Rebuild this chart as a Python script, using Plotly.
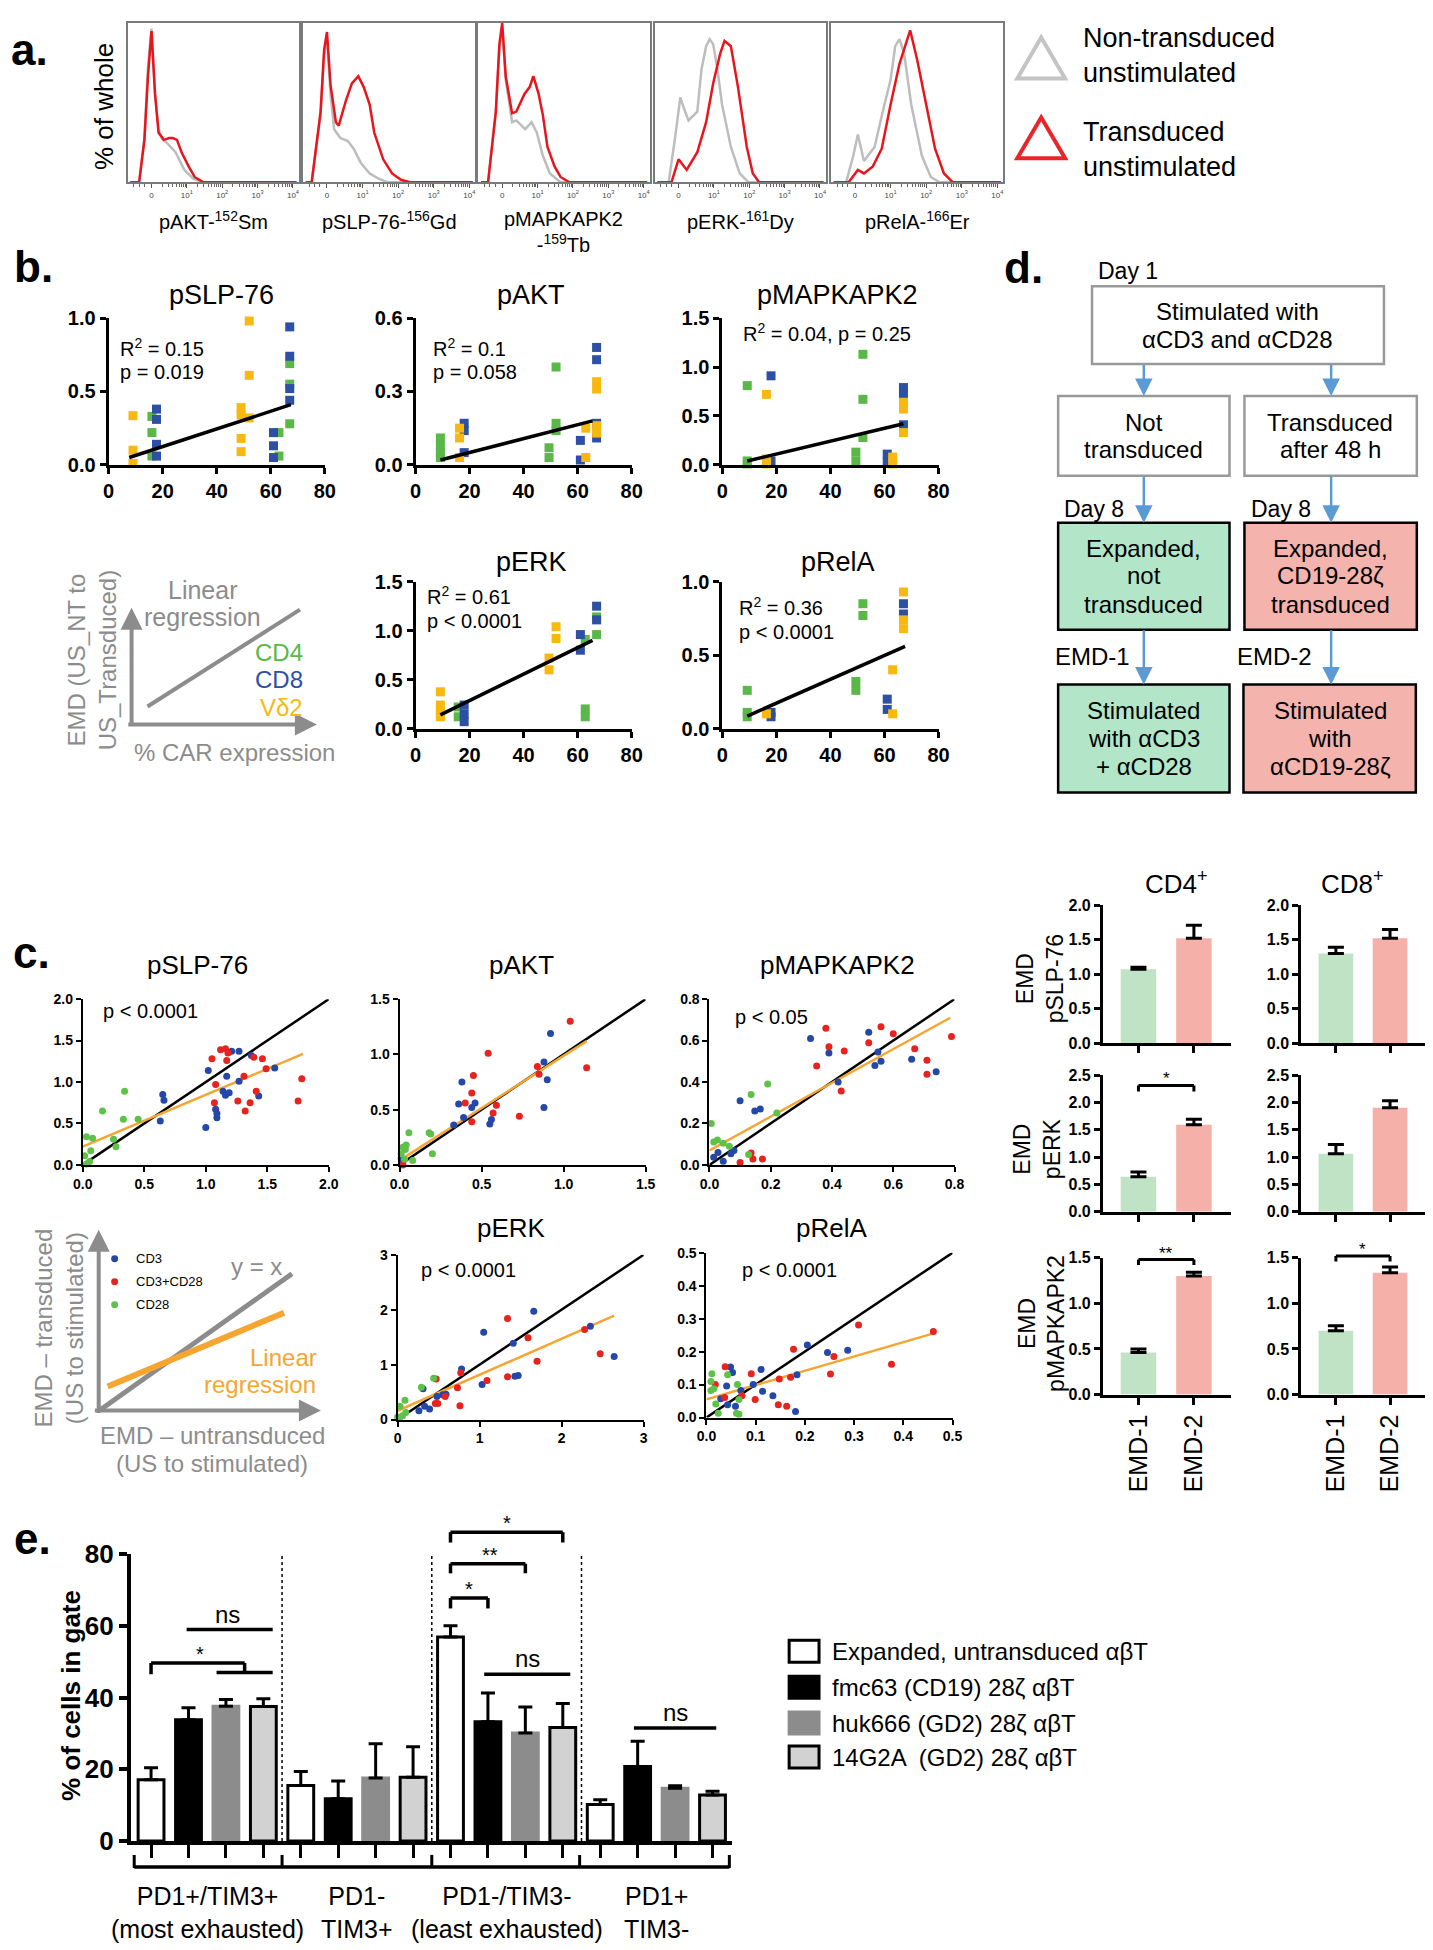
import math
import plotly.graph_objects as go

W, H = 1433, 1950
FONT = "Liberation Sans, Arial, Helvetica, sans-serif"

# ======================= DATA =======================
# ---- panel a : histograms (x in decades, y = fraction of box height) ----
A_LABELS = ["pAKT-<sup>152</sup>Sm", "pSLP-76-<sup>156</sup>Gd", "pMAPKAPK2<br>-<sup>159</sup>Tb",
            "pERK-<sup>161</sup>Dy", "pRelA-<sup>166</sup>Er"]
A_TICKVALS = [0, 1, 2, 3, 4]
A_TICKTEXT = ["0", "10<sup>1</sup>", "10<sup>2</sup>", "10<sup>3</sup>", "10<sup>4</sup>"]
A_LEGEND = ["Non-transduced<br>unstimulated", "Transduced<br>unstimulated"]

a_pakt_gray_x = [-0.6, -0.35, -0.2, -0.1, 0.0, 0.1, 0.2, 0.3, 0.45, 0.68, 0.93, 1.18, 1.43, 4.1]
a_pakt_gray_y = [0, 0, 0.25, 0.65, 0.87, 0.5, 0.3, 0.245, 0.22, 0.17, 0.07, 0.02, 0, 0]
a_pakt_red_x = [-0.6, -0.35, -0.2, -0.1, 0.0, 0.1, 0.2, 0.35, 0.5, 0.6, 0.72, 0.85, 1.05, 1.22, 1.47, 4.1]
a_pakt_red_y = [0, 0, 0.24, 0.6, 0.855, 0.5, 0.28, 0.24, 0.25, 0.25, 0.24, 0.17, 0.09, 0.03, 0, 0]

a_pslp_gray_x = [-0.6, -0.43, -0.18, -0.08, 0, 0.1, 0.2, 0.38, 0.58, 0.75, 0.95, 1.2, 1.45, 1.7, 4.1]
a_pslp_gray_y = [0, 0, 0.38, 0.72, 0.81, 0.5, 0.3, 0.25, 0.235, 0.19, 0.11, 0.05, 0.02, 0, 0]
a_pslp_red_x = [-0.6, -0.43, -0.18, -0.08, 0, 0.1, 0.25, 0.33, 0.53, 0.7, 0.88, 1.03, 1.2, 1.33, 1.58, 1.83, 2.08, 2.33, 4.1]
a_pslp_red_y = [0, 0, 0.4, 0.75, 0.85, 0.55, 0.34, 0.32, 0.46, 0.56, 0.6, 0.54, 0.44, 0.28, 0.13, 0.05, 0.014, 0, 0]

a_pmapk_gray_x = [-0.6, -0.4, -0.18, -0.08, 0, 0.1, 0.28, 0.4, 0.65, 0.83, 0.98, 1.15, 1.35, 1.65, 4.1]
a_pmapk_gray_y = [0, 0, 0.4, 0.75, 0.88, 0.58, 0.34, 0.35, 0.3, 0.34, 0.28, 0.15, 0.05, 0, 0]
a_pmapk_red_x = [-0.6, -0.4, -0.18, -0.08, 0, 0.1, 0.28, 0.4, 0.63, 0.78, 0.88, 1.03, 1.15, 1.28, 1.48, 1.65, 1.9, 4.1]
a_pmapk_red_y = [0, 0, 0.4, 0.78, 0.9, 0.6, 0.39, 0.4, 0.5, 0.54, 0.6, 0.5, 0.38, 0.2, 0.09, 0.03, 0, 0]

a_perk_gray_x = [-0.6, -0.28, -0.1, 0.05, 0.15, 0.28, 0.53, 0.65, 0.78, 0.88, 0.98, 1.1, 1.23, 1.48, 1.73, 1.98, 4.1]
a_perk_gray_y = [0, 0, 0.25, 0.48, 0.42, 0.35, 0.4, 0.64, 0.77, 0.81, 0.78, 0.64, 0.44, 0.2, 0.05, 0, 0]
a_perk_red_x = [-0.6, -0.2, 0, 0.23, 0.53, 0.78, 0.98, 1.18, 1.3, 1.48, 1.68, 1.93, 2.1, 2.28, 4.1]
a_perk_red_y = [0, 0, 0.13, 0.07, 0.17, 0.34, 0.56, 0.73, 0.80, 0.77, 0.54, 0.2, 0.05, 0, 0]

a_prela_gray_x = [-0.6, -0.25, -0.05, 0.08, 0.25, 0.55, 0.78, 1.0, 1.13, 1.25, 1.38, 1.58, 1.88, 2.13, 2.38, 4.1]
a_prela_gray_y = [0, 0, 0.15, 0.27, 0.12, 0.2, 0.4, 0.58, 0.77, 0.81, 0.73, 0.44, 0.15, 0.03, 0, 0]
a_prela_red_x = [-0.6, -0.18, 0.08, 0.25, 0.5, 0.75, 1.0, 1.25, 1.55, 1.75, 2.0, 2.25, 2.5, 2.75, 4.1]
a_prela_red_y = [0, 0, 0.07, 0.05, 0.09, 0.19, 0.44, 0.67, 0.86, 0.69, 0.44, 0.19, 0.05, 0, 0]

# ---- panel b : EMD vs % CAR expression (x, y) ----
B_GROUPS = ["CD4", "CD8", "Vδ2"]
b_pslp76_cd4 = [(16, 0.33), (16, 0.22), (16, 0.06), (63, 0.22), (63, 0.06), (67, 0.69), (67, 0.55), (67, 0.28)]
b_pslp76_cd8 = [(17.7, 0.38), (17.7, 0.31), (17.7, 0.14), (17.7, 0.06), (61, 0.22), (61, 0.13), (61, 0.05),
                (67, 0.94), (67, 0.74), (67, 0.52), (67, 0.44)]
b_pslp76_vd2 = [(9, 0.335), (9, 0.10), (9, 0.01), (52, 0.98), (52, 0.61), (49, 0.39), (49, 0.34), (52, 0.32),
                (49, 0.18), (49, 0.09)]
b_pslp76_fit = [(7.6, 0.05), (67.4, 0.41)]

b_pakt_cd4 = [(9.2, 0.11), (9.2, 0.08), (9.2, 0.05), (9.2, 0.03), (52, 0.40), (52, 0.17), (52, 0.14), (49.4, 0.07), (49.4, 0.03)]
b_pakt_cd8 = [(18, 0.17), (18, 0.14), (18, 0.05), (61, 0.10), (61, 0.02), (67, 0.48), (67, 0.43), (67, 0.17), (67, 0.11)]
b_pakt_vd2 = [(16.3, 0.15), (16.3, 0.11), (16.3, 0.03), (63, 0.03), (63, 0.15), (67, 0.34), (67, 0.31), (67, 0.16), (67, 0.13)]
b_pakt_fit = [(9.2, 0.02), (65.5, 0.18)]

b_pmapk_cd4 = [(9.2, 0.81), (9.2, 0.04), (9.2, 0.01), (52, 1.13), (52, 0.67), (52, 0.28), (49.4, 0.13), (49.4, 0.04)]
b_pmapk_cd8 = [(18, 0.91), (18, 0.04), (61, 0.11), (61, 0.03), (67, 0.79), (67, 0.72), (67, 0.41)]
b_pmapk_vd2 = [(16.3, 0.72), (16.3, 0.06), (16.3, 0.01), (63, 0.08), (63, 0.01), (67, 0.64), (67, 0.57), (67, 0.33)]
b_pmapk_fit = [(9.2, 0.04), (67, 0.42)]

b_perk_cd4 = [(15.8, 0.22), (15.8, 0.12), (62.8, 0.20), (62.8, 0.12), (62.8, 0.91), (67, 1.14), (67, 0.96)]
b_perk_cd8 = [(18, 0.24), (18, 0.15), (18, 0.07), (61, 0.96), (61, 0.80), (67, 1.25), (67, 1.11)]
b_perk_vd2 = [(9.2, 0.375), (9.2, 0.24), (9.2, 0.17), (9.2, 0.12), (52, 1.04), (52, 0.92), (49.4, 0.72), (49.4, 0.60)]
b_perk_fit = [(9.2, 0.14), (65.5, 0.90)]

b_prela_cd4 = [(9.2, 0.26), (9.2, 0.11), (9.2, 0.08), (52, 0.85), (52, 0.77), (49.4, 0.32), (49.4, 0.26)]
b_prela_cd8 = [(18, 0.11), (18, 0.08), (61, 0.20), (61, 0.13), (67, 0.85), (67, 0.78)]
b_prela_vd2 = [(16.3, 0.10), (63, 0.40), (63, 0.10), (67, 0.93), (67, 0.74), (67, 0.68)]
b_prela_fit = [(9.2, 0.085), (67.6, 0.56)]

# ---- panel c : EMD transduced vs untransduced (x, y) ----
C_GROUPS = ["CD3", "CD3+CD28", "CD28"]
c_pslp76_cd3 = [(0.65, 0.85), (0.66, 0.78), (0.63, 0.53), (1.02, 1.14), (1.00, 0.45), (1.08, 0.67), (1.09, 0.62),
                (1.09, 0.57), (1.14, 0.89), (1.16, 0.84), (1.19, 0.87), (1.17, 1.07), (1.21, 1.37), (1.27, 1.37),
                (1.27, 1.01), (1.37, 1.32), (1.43, 0.83), (1.56, 1.17)]
c_pslp76_cd3cd28 = [(1.05, 1.28), (1.12, 1.39), (1.16, 1.40), (1.17, 1.26), (1.18, 1.35), (1.08, 0.97), (1.07, 0.75),
                    (1.26, 0.77), (1.32, 0.65), (1.31, 1.07), (1.36, 0.75), (1.39, 1.30), (1.41, 0.89), (1.46, 1.28),
                    (1.49, 1.16), (1.75, 0.77), (1.78, 1.04)]
c_pslp76_cd28 = [(0.03, 0.34), (0.08, 0.32), (0.065, 0.17), (0.015, 0.11), (0.055, 0.04), (0.03, 0.01), (0.16, 0.65),
                 (0.34, 0.89), (0.33, 0.55), (0.45, 0.55), (0.25, 0.31), (0.27, 0.22)]
c_pslp76_fit = [(0.0, 0.22), (1.79, 1.34)]

c_pakt_cd3 = [(0.01, 0.06), (0.02, 0.03), (0.33, 0.36), (0.36, 0.55), (0.38, 0.75), (0.39, 0.43), (0.44, 0.52),
              (0.46, 0.56), (0.55, 0.37), (0.56, 0.41), (0.88, 0.52), (0.88, 0.93), (0.90, 0.77), (0.92, 1.19)]
c_pakt_cd3cd28 = [(0.02, 0.0), (0.40, 0.56), (0.44, 0.39), (0.44, 0.65), (0.45, 0.81), (0.54, 1.01), (0.57, 0.47),
                  (0.59, 0.54), (0.73, 0.44), (0.84, 0.89), (0.85, 0.82), (1.04, 1.30), (1.14, 0.88)]
c_pakt_cd28 = [(0.057, 0.29), (0.18, 0.29), (0.19, 0.28), (0.02, 0.16), (0.04, 0.18), (0.035, 0.14), (0.01, 0.10),
               (0.08, 0.04), (0.20, 0.10), (0.03, 0.05)]
c_pakt_fit = [(0.0, 0.04), (1.14, 1.12)]

c_pmapk_cd3 = [(0.028, 0.06), (0.014, 0.037), (0.045, 0.017), (0.07, 0.054), (0.08, 0.07), (0.10, 0.31), (0.148, 0.26),
               (0.166, 0.27), (0.33, 0.61), (0.39, 0.54), (0.42, 0.40), (0.52, 0.64), (0.54, 0.48), (0.55, 0.545),
               (0.56, 0.50), (0.66, 0.51), (0.74, 0.45)]
c_pmapk_cd3cd28 = [(0.10, 0.012), (0.136, 0.058), (0.142, 0.029), (0.173, 0.029), (0.35, 0.477), (0.38, 0.66),
                   (0.39, 0.57), (0.43, 0.357), (0.44, 0.55), (0.52, 0.59), (0.56, 0.667), (0.60, 0.633), (0.67, 0.56),
                   (0.71, 0.505), (0.71, 0.437), (0.79, 0.62)]
c_pmapk_cd28 = [(0.006, 0.20), (0.014, 0.11), (0.026, 0.12), (0.045, 0.105), (0.065, 0.09), (0.136, 0.34), (0.19, 0.39),
                (0.22, 0.25), (0.128, 0.05)]
c_pmapk_fit = [(0.0, 0.07), (0.786, 0.71)]

c_perk_cd3 = [(0.26, 0.16), (0.31, 0.56), (0.33, 0.24), (0.39, 0.19), (0.48, 0.42), (0.55, 0.45), (0.59, 0.46),
              (0.78, 0.92), (1.03, 0.64), (1.05, 1.59), (1.41, 1.39), (1.43, 0.79), (1.47, 0.80), (1.66, 1.97),
              (2.35, 1.70), (2.64, 1.15)]
c_perk_cd3cd28 = [(0.47, 0.74), (0.46, 0.29), (0.49, 0.29), (0.58, 0.42), (0.73, 0.58), (0.76, 0.25), (0.77, 0.85),
                  (1.09, 0.71), (1.34, 1.84), (1.34, 0.78), (1.59, 1.49), (1.70, 1.06), (2.28, 1.64), (2.47, 1.20)]
c_perk_cd28 = [(0.0, 0.045), (0.03, 0.24), (0.09, 0.35), (0.29, 0.59), (0.44, 0.75), (0.06, 0.07), (0.02, 0.02), (0.1, 0.13)]
c_perk_fit = [(0.0, 0.16), (2.64, 1.89)]

c_prela_cd3 = [(0.029, 0.057), (0.041, 0.096), (0.043, 0.039), (0.049, 0.153), (0.053, 0.137), (0.059, 0.034),
               (0.07, 0.082), (0.095, 0.10), (0.111, 0.146), (0.114, 0.08), (0.135, 0.066), (0.181, 0.018),
               (0.184, 0.13), (0.205, 0.22), (0.246, 0.197), (0.287, 0.204)]
c_prela_cd3cd28 = [(0.018, 0.10), (0.038, 0.154), (0.037, 0.061), (0.072, 0.066), (0.091, 0.133), (0.099, 0.055),
                   (0.148, 0.117), (0.146, 0.039), (0.163, 0.034), (0.171, 0.122), (0.177, 0.207), (0.252, 0.132),
                   (0.259, 0.185), (0.309, 0.281), (0.376, 0.162), (0.461, 0.261)]
c_prela_cd28 = [(0.009, 0.082), (0.015, 0.087), (0.011, 0.133), (0.009, 0.109), (0.019, 0.041), (0.024, 0.013),
                (0.043, 0.13), (0.063, 0.10), (0.066, 0.055), (0.061, 0.013), (0.066, 0.01)]
c_prela_fit = [(0.0, 0.055), (0.465, 0.257)]

# ---- right bar charts (EMD-1 vs EMD-2), mean and SEM ----
BAR_CATS = ["EMD-1", "EMD-2"]
cd4_pslp76 = [1.07, 1.52]; cd4_pslp76_sem = [0.03, 0.19]
cd8_pslp76 = [1.30, 1.52]; cd8_pslp76_sem = [0.09, 0.13]
cd4_perk = [0.64, 1.59]; cd4_perk_sem = [0.09, 0.10]
cd8_perk = [1.06, 1.90]; cd8_perk_sem = [0.17, 0.13]
cd4_pmapk = [0.46, 1.30]; cd4_pmapk_sem = [0.04, 0.04]
cd8_pmapk = [0.70, 1.335]; cd8_pmapk_sem = [0.055, 0.065]

# ---- panel e ----
E_GROUPS = ["PD1+/TIM3+<br>(most exhausted)", "PD1-<br>TIM3+", "PD1-/TIM3-<br>(least exhausted)", "PD1+<br>TIM3-"]
E_SERIES = ["Expanded, untransduced αβT", "fmc63 (CD19) 28ζ αβT", "huk666 (GD2) 28ζ αβT", "14G2A  (GD2) 28ζ αβT"]
e_untransduced = [17.1, 15.5, 56.9, 10.2]; e_untransduced_sem = [3.3, 3.9, 3.2, 1.3]
e_fmc63 = [33.8, 11.8, 33.3, 20.8]; e_fmc63_sem = [3.4, 4.9, 8.0, 7.0]
e_huk666 = [37.6, 17.6, 30.1, 14.7]; e_huk666_sem = [1.9, 9.5, 7.3, 0.7]
e_14g2a = [37.5, 17.8, 31.7, 12.8]; e_14g2a_sem = [2.2, 8.5, 6.7, 1.1]

# ======================= HELPERS =======================
layout = dict(width=W, height=H, margin=dict(l=0, r=0, t=0, b=0), paper_bgcolor="white",
              plot_bgcolor="white", showlegend=False, font=dict(family=FONT, color="black"))
annotations, shapes, traces = [], [], []

# positions below (pixels); the page photo shifts/shrinks the
# figure slightly, so map reference pixels into layout pixels
SX, OX = 0.989, 14.0
SY, OY = 0.986, 22.5


def lx(x): return (x - OX) / SX
def ly(y): return (y - OY) / SY
def px(x): return lx(x) / W
def py(y): return 1 - ly(y) / H
def clamp(v): return min(1.0, max(0.0, v))
def xdom(a, b): return [clamp(px(a)), clamp(px(b))]
def ydom(top, bot): return [clamp(py(bot)), clamp(py(top))]


def text(x, y, s, size, color="black", xanchor="center", yanchor="middle", angle=0, bold=False,
         xref="paper", yref="paper", yshift=0, align="center"):
    if xref == "paper":
        x = px(x)
    if yref == "paper":
        y = clamp(py(y))
    if bold:
        s = "<b>" + s + "</b>"
    annotations.append(dict(x=x, y=y, xref=xref, yref=yref, text=s, showarrow=False, xanchor=xanchor,
                            yanchor=yanchor, textangle=angle, yshift=yshift, align=align,
                            font=dict(size=size, color=color, family=FONT)))


def seg(x0, y0, x1, y1, xref="paper", yref="paper", width=3, color="black", dash=None):
    if xref == "paper":
        x0, x1 = px(x0), px(x1)
    if yref == "paper":
        y0, y1 = py(y0), py(y1)
    shapes.append(dict(type="line", xref=xref, yref=yref, x0=x0, y0=y0, x1=x1, y1=y1,
                       line=dict(color=color, width=width, dash=dash)))


def rect(x0, y0, x1, y1, fill, line, width):
    shapes.append(dict(type="rect", xref="paper", yref="paper", x0=px(x0), x1=px(x1), y0=py(y1), y1=py(y0),
                       fillcolor=fill, line=dict(color=line, width=width)))


def arrow(xh, yh, xt, yt, color, width, size):
    annotations.append(dict(x=px(xh), y=py(yh), xref="paper", yref="paper", ax=(xt - xh) / SX,
                            ay=(yt - yh) / SY, axref="pixel", ayref="pixel", text="", showarrow=True,
                            arrowhead=2, arrowsize=size, arrowwidth=width, arrowcolor=color, standoff=0))


def names(n):
    return ("x" if n == 1 else "x%d" % n), ("y" if n == 1 else "y%d" % n)


def axes(n, xd, yd, xr, yr, xkw, ykw):
    xn, yn = names(n)
    sfx = "" if n == 1 else str(n)
    layout["xaxis" + sfx] = dict(domain=xd, range=xr, anchor=yn, fixedrange=True, **xkw)
    layout["yaxis" + sfx] = dict(domain=yd, range=yr, anchor=xn, fixedrange=True, **ykw)
    return xn, yn


def gp(lw, tl, fs, vals, labels, show=True):
    return dict(showline=True, linewidth=lw, linecolor="black", ticks="outside", ticklen=tl, tickwidth=lw,
                tickcolor="black", showgrid=False, zeroline=False, tickmode="array", tickvals=vals,
                ticktext=labels, showticklabels=show,
                tickfont=dict(family=FONT, size=fs, color="black", weight="bold"))


def fmt(vals, d=1):
    return [("%." + str(d) + "f") % v for v in vals]


# ======================= PANEL LETTERS =======================
text(5, 0, "a.", 44, xanchor="left", yanchor="top", bold=True)
for letter, lxp, lyp in [("b.", 8, 283), ("c.", 7, 970), ("d.", 1002, 284), ("e.", 8, 1557)]:
    text(lxp, lyp + 10, letter, 44, xanchor="left", yanchor="bottom", bold=True)

# ======================= PANEL a =======================
A_DATA = [(a_pakt_gray_x, a_pakt_gray_y, a_pakt_red_x, a_pakt_red_y),
          (a_pslp_gray_x, a_pslp_gray_y, a_pslp_red_x, a_pslp_red_y),
          (a_pmapk_gray_x, a_pmapk_gray_y, a_pmapk_red_x, a_pmapk_red_y),
          (a_perk_gray_x, a_perk_gray_y, a_perk_red_x, a_perk_red_y),
          (a_prela_gray_x, a_prela_gray_y, a_prela_red_x, a_prela_red_y)]
A_BOXES = [(124, 296), (300, 473), (476, 648), (653, 825), (830, 1003)]
A_BOX_TOP, A_BOX_BOT = 5, 182
# the top of the box can't be placed above the page top, so trim the value range to keep scale
a_top_visible = (A_BOX_BOT - max(A_BOX_TOP, OY)) / (A_BOX_BOT - A_BOX_TOP)
minor_vals = [-0.5, -0.35, -0.2] + [n + math.log10(k) for n in range(4) for k in range(2, 10)]
for i, ((gx, gy, rx, ry), (bx0, bx1), lab) in enumerate(zip(A_DATA, A_BOXES, A_LABELS)):
    n = 1 + i
    xkw = dict(showline=True, mirror=True, linewidth=1.5, linecolor="#7a7a7a", ticks="outside", ticklen=4,
               tickwidth=1, tickcolor="#555", tickmode="array", tickvals=A_TICKVALS, ticktext=A_TICKTEXT,
               tickfont=dict(size=8, color="#444", family=FONT), showgrid=False, zeroline=False,
               minor=dict(tickmode="array", tickvals=minor_vals, ticklen=2.5, tickwidth=1, tickcolor="#666",
                          ticks="outside", showgrid=False))
    ykw = dict(showline=True, mirror=True, linewidth=1.5, linecolor="#7a7a7a", ticks="", showticklabels=False,
               showgrid=False, zeroline=False)
    xn, yn = axes(n, xdom(bx0, bx1), ydom(A_BOX_TOP, A_BOX_BOT), [-0.676, 4.17], [0, a_top_visible], xkw, ykw)
    traces.append(go.Scatter(x=gx, y=gy, mode="lines", line=dict(color="#bdbdbd", width=2.5), xaxis=xn, yaxis=yn))
    traces.append(go.Scatter(x=rx, y=ry, mode="lines", line=dict(color="#e8161c", width=2.5), xaxis=xn, yaxis=yn))
    text((bx0 + bx1) / 2, 206, lab, 20, yanchor="top")
text(101, 106, "% of whole", 26, angle=-90)
for (ytop, ybot), col, lab, ty in [((37, 78), "#c4c4c4", A_LEGEND[0], 55), ((117, 158), "#e8262a", A_LEGEND[1], 149)]:
    path = "M %f %f L %f %f L %f %f Z" % (px(1017), py(ybot), px(1041), py(ytop), px(1065), py(ybot))
    shapes.append(dict(type="path", xref="paper", yref="paper", path=path, line=dict(color=col, width=4),
                       fillcolor="rgba(0,0,0,0)"))
    text(1081, ty, lab, 27, xanchor="left", align="left")

# ======================= PANEL b =======================
B_COLORS = ["#5ab848", "#2d4fa4", "#f7b90f"]
B_PANELS = [
    ("pSLP-76", (b_pslp76_cd4, b_pslp76_cd8, b_pslp76_vd2), b_pslp76_fit, (105, 322), (318, 465), [0, 1.0],
     [0, 0.5, 1.0], (218, 295), [("R<sup>2</sup> = 0.15", 114, 347), ("p = 0.019", 114, 372)]),
    ("pAKT", (b_pakt_cd4, b_pakt_cd8, b_pakt_vd2), b_pakt_fit, (413, 630), (318, 465), [0, 0.6],
     [0, 0.3, 0.6], (529, 295), [("R<sup>2</sup> = 0.1", 429, 347), ("p = 0.058", 429, 372)]),
    ("pMAPKAPK2", (b_pmapk_cd4, b_pmapk_cd8, b_pmapk_vd2), b_pmapk_fit, (721, 938), (318, 465), [0, 1.5],
     [0, 0.5, 1.0, 1.5], (837, 295), [("R<sup>2</sup> = 0.04, p = 0.25", 740, 332)]),
    ("pERK", (b_perk_cd4, b_perk_cd8, b_perk_vd2), b_perk_fit, (413, 630), (582, 729), [0, 1.5],
     [0, 0.5, 1.0, 1.5], (529, 562), [("R<sup>2</sup> = 0.61", 423, 596), ("p < 0.0001", 423, 621)]),
    ("pRelA", (b_prela_cd4, b_prela_cd8, b_prela_vd2), b_prela_fit, (721, 938), (582, 729), [0, 1.0],
     [0, 0.5, 1.0], (837, 562), [("R<sup>2</sup> = 0.36", 736, 607), ("p < 0.0001", 736, 632)]),
]
for i, (title, groups, fit, (x0, x1), (yt, yb), yr, yt_vals, (tx, ty), notes) in enumerate(B_PANELS):
    n = 6 + i
    xkw = gp(3, 6, 20, [0, 20, 40, 60, 80], ["0", "20", "40", "60", "80"])
    ykw = gp(3, 6, 20, yt_vals, fmt(yt_vals))
    xn, yn = axes(n, xdom(x0, x1), ydom(yt, yb), [0, 80], yr, xkw, ykw)
    for pts, col in zip(groups, B_COLORS):
        traces.append(go.Scatter(x=[p[0] for p in pts], y=[p[1] for p in pts], mode="markers",
                                 marker=dict(symbol="square", size=9, color=col), cliponaxis=False,
                                 xaxis=xn, yaxis=yn))
    traces.append(go.Scatter(x=[p[0] for p in fit], y=[p[1] for p in fit], mode="lines",
                             line=dict(color="black", width=3.5), xaxis=xn, yaxis=yn))
    text(tx, ty, title, 27)
    for s, nx, ny in notes:
        text(nx, ny, s, 20, xanchor="left")

GRAY = "#8c8c8c"
arrow(128, 608, 128, 725, GRAY, 4, 1.1)
arrow(314, 725, 126, 725, GRAY, 4, 1.1)
seg(144, 707, 297, 610, width=4, color=GRAY)
text(200, 590, "Linear", 25, color=GRAY)
text(199, 617, "regression", 25, color=GRAY)
for g, col, yy in zip(B_GROUPS, B_COLORS, [653, 680, 708]):
    text(302, yy, g, 24, color=col, xanchor="right")
text(231, 753, "% CAR expression", 24, color=GRAY)
text(88, 660, "EMD (US_NT to<br>US_Transduced)", 24, color=GRAY, angle=-90)

# ======================= PANEL c =======================
C_COLORS = ["#2548a8", "#e8221e", "#5ec249"]
ORANGE = "#f7a531"
C_PANELS = [
    ("pSLP-76", (c_pslp76_cd3, c_pslp76_cd3cd28, c_pslp76_cd28), c_pslp76_fit, (79, 326), (1000, 1166), 2.0,
     [0, 0.5, 1.0, 1.5, 2.0], 1, (194, 966), ("p < 0.0001", 97, 1012)),
    ("pAKT", (c_pakt_cd3, c_pakt_cd3cd28, c_pakt_cd28), c_pakt_fit, (397, 644), (1000, 1166), 1.5,
     [0, 0.5, 1.0, 1.5], 1, (519, 966), None),
    ("pMAPKAPK2", (c_pmapk_cd3, c_pmapk_cd3cd28, c_pmapk_cd28), c_pmapk_fit, (708, 954), (1000, 1166), 0.8,
     [0, 0.2, 0.4, 0.6, 0.8], 1, (837, 966), ("p < 0.05", 732, 1018)),
    ("pERK", (c_perk_cd3, c_perk_cd3cd28, c_perk_cd28), c_perk_fit, (395, 642), (1256, 1421), 3.0,
     [0, 1, 2, 3], 0, (509, 1229), ("p < 0.0001", 416, 1271)),
    ("pRelA", (c_prela_cd3, c_prela_cd3cd28, c_prela_cd28), c_prela_fit, (705, 952), (1254, 1419), 0.5,
     [0, 0.1, 0.2, 0.3, 0.4, 0.5], 1, (831, 1229), ("p < 0.0001", 739, 1271)),
]
for i, (title, groups, fit, (x0, x1), (yt, yb), vmax, tv, dec, (tx, ty), note) in enumerate(C_PANELS):
    n = 11 + i
    xkw = gp(2, 5, 14, tv, fmt(tv, dec))
    ykw = gp(2, 5, 14, tv, fmt(tv, dec))
    xn, yn = axes(n, xdom(x0, x1), ydom(yt, yb), [0, vmax], [0, vmax], xkw, ykw)
    traces.append(go.Scatter(x=[0, vmax], y=[0, vmax], mode="lines", line=dict(color="black", width=2.5),
                             xaxis=xn, yaxis=yn))
    traces.append(go.Scatter(x=[p[0] for p in fit], y=[p[1] for p in fit], mode="lines",
                             line=dict(color=ORANGE, width=2.5), xaxis=xn, yaxis=yn))
    for pts, col in zip(groups, C_COLORS):
        traces.append(go.Scatter(x=[p[0] for p in pts], y=[p[1] for p in pts], mode="markers",
                                 marker=dict(size=7, color=col), cliponaxis=False, xaxis=xn, yaxis=yn))
    text(tx, ty, title, 26)
    if note:
        text(note[1], note[2], note[0], 20, xanchor="left")

arrow(95, 1231, 95, 1413, GRAY, 4, 1.1)
arrow(318, 1412, 93, 1412, GRAY, 4, 1.1)
seg(97, 1411, 289, 1275, width=5, color=GRAY)
seg(104, 1388, 281, 1314, width=6, color=ORANGE)
for g, col, yy in zip(C_GROUPS, C_COLORS, [1260, 1283, 1306]):
    shapes.append(dict(type="circle", xref="paper", yref="paper", x0=px(107.5), x1=px(114.5), y0=py(yy + 3.5),
                       y1=py(yy - 3.5), fillcolor=col, line=dict(width=0)))
    text(130, yy, g, 13, xanchor="left")
text(253, 1268, "y = x", 24, color=GRAY)
text(316, 1359, "Linear", 24, color=ORANGE, xanchor="right")
text(315, 1386, "regression", 24, color=ORANGE, xanchor="right")
text(209, 1437, "EMD – untransduced", 24, color=GRAY)
text(209, 1465, "(US to stimulated)", 24, color=GRAY)
text(55, 1329, "EMD – transduced<br>(US to stimulated)", 24, color=GRAY, angle=-90)

# ======================= PANEL d (flowchart) =======================
BLUE = "#5b9bd5"
GREEN_BOX = "#b3e6c9"
RED_BOX = "#f5b3ae"
rect(1092, 286, 1385, 364, "white", "#999999", 2.5)
rect(1058, 396, 1230, 476, "white", "#999999", 2.5)
rect(1245, 396, 1418, 476, "white", "#999999", 2.5)
rect(1058, 523, 1230, 630, GREEN_BOX, "black", 2.5)
rect(1245, 523, 1418, 630, RED_BOX, "black", 2.5)
rect(1058, 685, 1230, 793, GREEN_BOX, "black", 2.5)
rect(1244, 685, 1417, 793, RED_BOX, "black", 2.5)
for ax_ in (1144, 1332):
    arrow(ax_, 396, ax_, 364, BLUE, 2.5, 1.4)
    arrow(ax_, 523, ax_, 476, BLUE, 2.5, 1.4)
    arrow(ax_, 685, ax_, 630, BLUE, 2.5, 1.4)
text(1096, 271, "Day 1", 23, xanchor="left")
text(1062, 509, "Day 8", 23, xanchor="left")
text(1250, 509, "Day 8", 23, xanchor="left")
text(1053, 657, "EMD-1", 24, xanchor="left")
text(1236, 657, "EMD-2", 24, xanchor="left")
for cxp, lines, ys in [
    (1238, ["Stimulated with", "αCD3 and αCD28"], [311, 339]),
    (1144, ["Not", "transduced"], [423, 450]),
    (1331, ["Transduced", "after 48 h"], [423, 450]),
    (1144, ["Expanded,", "not", "transduced"], [549, 576, 605]),
    (1331, ["Expanded,", "CD19-28ζ", "transduced"], [549, 576, 605]),
    (1144, ["Stimulated", "with αCD3", "+ αCD28"], [711, 739, 767]),
    (1331, ["Stimulated", "with", "αCD19-28ζ"], [711, 739, 767]),
]:
    for ln, yy in zip(lines, ys):
        text(cxp, yy, ln, 24)

# ======================= RIGHT BAR CHARTS =======================
BAR_COLORS = ["#bfe3c4", "#f6b0aa"]
BAR_PANELS = [
    (cd4_pslp76, cd4_pslp76_sem, (1103, 1231), (906, 1044), 2.0, [0, 0.5, 1.0, 1.5, 2.0], False, None),
    (cd8_pslp76, cd8_pslp76_sem, (1302, 1427), (906, 1044), 2.0, [0, 0.5, 1.0, 1.5, 2.0], False, None),
    (cd4_perk, cd4_perk_sem, (1103, 1231), (1076, 1213), 2.5, [0, 0.5, 1.0, 1.5, 2.0, 2.5], False, ("*", 2.31, 2.2)),
    (cd8_perk, cd8_perk_sem, (1302, 1427), (1076, 1213), 2.5, [0, 0.5, 1.0, 1.5, 2.0, 2.5], False, None),
    (cd4_pmapk, cd4_pmapk_sem, (1103, 1231), (1259, 1396), 1.5, [0, 0.5, 1.0, 1.5], True, ("**", 1.48, 1.42)),
    (cd8_pmapk, cd8_pmapk_sem, (1302, 1427), (1259, 1396), 1.5, [0, 0.5, 1.0, 1.5], True, ("*", 1.52, 1.46)),
]
for i, (vals, sem, (x0, x1), (yt, yb), vmax, tv, labels, sig) in enumerate(BAR_PANELS):
    n = 16 + i
    xkw = gp(3, 7, 24, [0, 1], BAR_CATS, show=labels)
    xkw["tickangle"] = -90
    xkw["tickfont"] = dict(family=FONT, size=25, color="black")
    ykw = gp(3, 6, 16, tv, fmt(tv))
    xn, yn = axes(n, xdom(x0, x1), ydom(yt, yb), [-0.64, 1.66], [0, vmax], xkw, ykw)
    traces.append(go.Bar(x=[0, 1], y=vals, width=0.64, marker=dict(color=BAR_COLORS, line=dict(width=0)),
                         error_y=dict(type="data", array=sem, arrayminus=[0, 0], symmetric=False,
                                      color="black", thickness=3, width=8),
                         xaxis=xn, yaxis=yn))
    if sig:
        lab, top, foot = sig
        yr_ = yn + " domain"
        seg(0, foot / vmax, 0, top / vmax, xref=xn, yref=yr_, width=3)
        seg(0, top / vmax, 1, top / vmax, xref=xn, yref=yr_, width=3)
        seg(1, foot / vmax, 1, top / vmax, xref=xn, yref=yr_, width=3)
        text(0.5, top / vmax, lab, 17, xref=xn, yref=yr_, yanchor="bottom", yshift=-5)

text(1177, 883, "CD4<sup>+</sup>", 26)
text(1353, 883, "CD8<sup>+</sup>", 26)
text(1040, 979, "EMD<br>pSLP-76", 23, angle=-90)
text(1037, 1150, "EMD<br>pERK", 23, angle=-90)
text(1041, 1325, "EMD<br>pMAPKAPK2", 23, angle=-90)

# ======================= PANEL e =======================
E_FILLS = ["white", "black", "#8c8c8c", "#d2d2d2"]
E_LINES = ["black", "black", "#8c8c8c", "black"]
E_VALUES = [(e_untransduced, e_untransduced_sem), (e_fmc63, e_fmc63_sem), (e_huk666, e_huk666_sem),
            (e_14g2a, e_14g2a_sem)]
n = 22
xkw = dict(showline=True, linewidth=3.5, linecolor="black", ticks="outside", ticklen=13, tickwidth=3,
           tickcolor="black", tickmode="array", tickvals=list(range(16)), showticklabels=False,
           showgrid=False, zeroline=False)
ykw = gp(3.5, 8, 26, [0, 20, 40, 60, 80], ["0", "20", "40", "60", "80"])
xe, ye = axes(n, xdom(127, 731), ydom(1556, 1843), [-0.547, 15.53], [0, 80], xkw, ykw)
for s, ((vals, sem), fill, lc) in enumerate(zip(E_VALUES, E_FILLS, E_LINES)):
    xs = [4 * g + s for g in range(len(E_GROUPS))]
    traces.append(go.Bar(x=xs, y=vals, width=0.69, marker=dict(color=fill, line=dict(color=lc, width=3)),
                         error_y=dict(type="data", array=sem, arrayminus=[0] * len(sem), symmetric=False,
                                      color="black", thickness=3, width=7),
                         xaxis=xe, yaxis=ye))
layout["barmode"] = "overlay"
for sx in (3.5, 7.5, 11.5):
    shapes.append(dict(type="line", xref=xe, yref=ye, x0=sx, x1=sx, y0=0, y1=80,
                       line=dict(color="black", width=1.5, dash="dot")))
for bx in (-0.45, 3.5, 7.5, 11.45, 15.45):
    shapes.append(dict(type="line", xref=xe, yref="paper", x0=bx, x1=bx, y0=py(1857), y1=py(1870),
                       line=dict(color="black", width=3)))
shapes.append(dict(type="line", xref=xe, yref="paper", x0=-0.45, x1=15.45, y0=py(1869), y1=py(1869),
                   line=dict(color="black", width=3.5)))
for g, lab in enumerate(E_GROUPS):
    annotations.append(dict(x=4 * g + 1.5, y=py(1882), xref=xe, yref="paper", text=lab, showarrow=False,
                            xanchor="center", yanchor="top", font=dict(size=25, family=FONT, color="black")))

ydm = ye + " domain"
E_SIG_LINES = [([0.95, 3.25], [59, 59]), ([0, 0, 2.5, 2.5], [46.5, 49.7, 49.7, 47]), ([1.75, 3.25], [47, 47]),
               ([8, 8, 11, 11], [83.3, 86.2, 86.2, 83.3]), ([8, 8, 10, 10], [74.7, 77.4, 77.4, 74.7]),
               ([8, 8, 9, 9], [64.9, 67.8, 67.8, 64.9]), ([8.9, 11.2], [46.5, 46.5]), ([12.9, 15.1], [31.5, 31.5])]
E_SIG_TEXT = [(2.05, 59, "ns"), (1.3, 49.7, "*"), (9.5, 86.2, "*"), (9.05, 77.4, "**"), (8.5, 67.8, "*"),
              (10.05, 46.5, "ns"), (14.0, 31.5, "ns")]
for xs, ys in E_SIG_LINES:
    for k in range(len(xs) - 1):
        seg(xs[k], ys[k] / 80, xs[k + 1], ys[k + 1] / 80, xref=xe, yref=ydm, width=3.5)
for tx, ty, lab in E_SIG_TEXT:
    text(tx, ty / 80, lab, 24 if lab == "ns" else 20, xref=xe, yref=ydm, yanchor="bottom",
         yshift=(0 if lab == "ns" else -4))

text(67, 1697, "% of cells in gate", 26, angle=-90, bold=True)

for lab, fill, lc, yy in zip(E_SERIES, E_FILLS, E_LINES, [1653, 1689, 1725, 1759]):
    rect(788, yy - 11, 818, yy + 11, fill, lc, 3)
    text(829, yy, lab, 24, xanchor="left")

layout["annotations"] = annotations
layout["shapes"] = shapes
fig = go.Figure(data=traces, layout=layout)
fig.write_html("out.html")
